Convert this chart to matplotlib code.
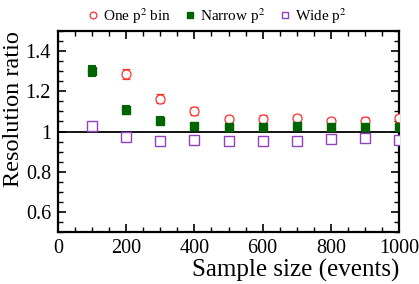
import matplotlib

matplotlib.use("Agg")
import matplotlib.pyplot as plt
from matplotlib.ticker import MultipleLocator

plt.rcParams["font.family"] = ["Liberation Serif", "DejaVu Serif"]
plt.rcParams["mathtext.fontset"] = "stix"

# sample sizes
x_one = [200, 300, 400, 500, 600, 700, 800, 900, 1000]
x_all = [100, 200, 300, 400, 500, 600, 700, 800, 900, 1000]

one_bin = [1.287, 1.163, 1.100, 1.060, 1.062, 1.066, 1.050, 1.054, 1.066]
one_err = [0.025, 0.022, 0.020, 0.018, 0.018, 0.018, 0.017, 0.017, 0.017]

narrow = [1.300, 1.105, 1.053, 1.028, 1.020, 1.022, 1.026, 1.020, 1.024, 1.022]
narrow_err = [0.025, 0.020, 0.018, 0.016, 0.015, 0.015, 0.015, 0.014, 0.014, 0.014]

wide = [1.029, 0.972, 0.953, 0.958, 0.953, 0.955, 0.955, 0.963, 0.966, 0.960]
wide_err = [0.012, 0.010, 0.010, 0.010, 0.010, 0.010, 0.010, 0.010, 0.010, 0.010]

red = "#ff3030"
green = "#006400"
purple = "#9040c0"

fig = plt.figure(figsize=(4.19, 2.84), dpi=100)
ax = fig.add_axes([58 / 419, 1 - 232 / 284, 341 / 419, 201 / 284])

ax.axhline(1.0, color="black", lw=1.3, zorder=1)

ax.errorbar(x_one, one_bin, yerr=one_err, fmt="o", ms=6.5, mfc="white", mec=red,
            mew=0.9, ecolor=red, elinewidth=1.2, capsize=3, capthick=1.5,
            label="One p$^2$ bin", zorder=3)
ax.errorbar(x_all, narrow, yerr=narrow_err, fmt="s", ms=6, mfc=green, mec=green,
            ecolor=green, elinewidth=1.2, capsize=3, capthick=1.5,
            label="Narrow p$^2$", zorder=3)
ax.errorbar(x_all, wide, yerr=wide_err, fmt="s", ms=6.5, mfc="white", mec=purple,
            mew=1.0, ecolor=purple, elinewidth=1.2, capsize=3, capthick=1.5,
            label="Wide p$^2$", zorder=3)

ax.set_xlim(0, 1000)
ax.set_ylim(0.5, 1.5)
ax.xaxis.set_major_locator(MultipleLocator(200))
ax.xaxis.set_minor_locator(MultipleLocator(50))
ax.yaxis.set_minor_locator(MultipleLocator(0.05))
ax.set_yticks([0.6, 0.8, 1.0, 1.2, 1.4])
ax.set_yticklabels(["0.6", "0.8", "1", "1.2", "1.4"])

ax.tick_params(which="both", direction="in", top=True, right=True, labelsize=14.5)
ax.tick_params(which="major", length=6, width=1.2, pad=5)
ax.tick_params(which="minor", length=3.5, width=1.0)
for sp in ax.spines.values():
    sp.set_linewidth(1.6)

ax.set_xlabel("Sample size (events)", fontsize=18, loc="right", labelpad=1)
ax.set_ylabel("Resolution ratio", fontsize=17.5, loc="top", labelpad=1)

handles, labels = ax.get_legend_handles_labels()
handles = [h[0] for h in handles]
fig.legend(handles, labels, ncol=3, loc="center", bbox_to_anchor=(217 / 419, 1 - 16 / 284),
           frameon=False, fontsize=11, handlelength=0.7, handletextpad=0.3,
           columnspacing=0.9, markerscale=0.75)

fig.savefig("out.png", dpi=100)
